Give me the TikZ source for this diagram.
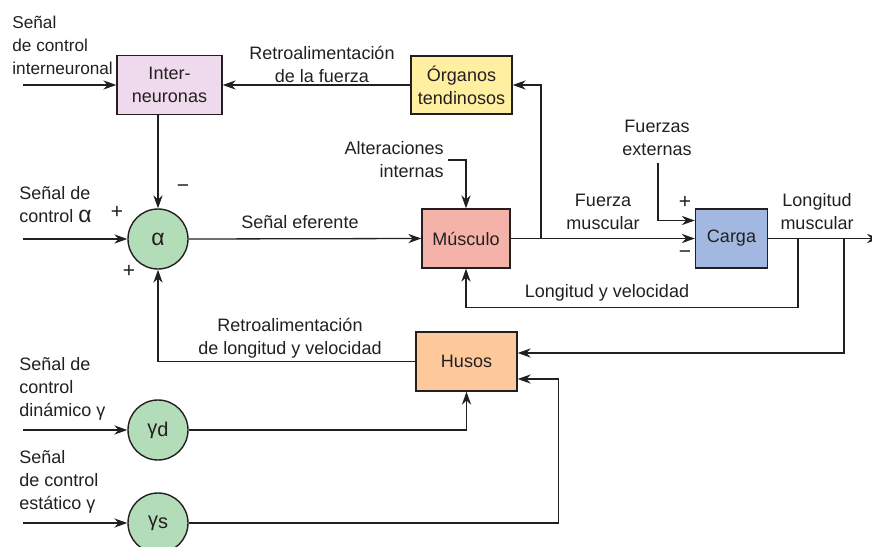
\documentclass[tikz,border=0pt]{standalone}
\usepackage{fontspec}
\setmainfont{Liberation Sans}
\usepackage{tikz}
\usetikzlibrary{arrows.meta,positioning}
\definecolor{ink}{HTML}{231F20}
\definecolor{cinter}{HTML}{EFD9EC}
\definecolor{corg}{HTML}{FEF0A0}
\definecolor{cmus}{HTML}{F5B2A8}
\definecolor{ccarga}{HTML}{A3B8E0}
\definecolor{chusos}{HTML}{FDC89A}
\definecolor{cgreen}{HTML}{B3DDB9}
\newcommand{\alf}{{\fontsize{11.5}{11.5}\selectfont α}}
\tikzset{
  >=Stealth,
  blk/.style={rectangle,draw=ink,line width=0.7pt,inner sep=1pt,minimum height=29.5pt,align=center,text=ink},
  sum/.style={circle,draw=ink,line width=0.7pt,fill=cgreen,minimum size=30pt,inner sep=0pt,text=ink},
  tr/.style={-{Stealth[length=6.5pt,width=4.6pt]},line width=0.65pt,draw=ink},
  lbl/.style={text=ink,inner sep=0pt},
  sgn/.style={text=ink,inner sep=0pt,font=\fontsize{10.5}{11}\selectfont}
}

\begin{document}
\begin{tikzpicture}[x=0.5pt,y=-0.5pt,font=\fontsize{9}{11.5}\selectfont]
    \useasboundingbox (0,0) rectangle (872,546);

    % === Blocks ===
    \node[blk, fill=cinter, minimum width=52.5pt] (inter) at (169.5,85) {Inter-\\neuronas};
    \node[blk, fill=corg, minimum width=50.5pt, minimum height=29pt] (org) at (461.5,85) {Órganos\\tendinosos};
    \node[sum] (alpha) at (158,239) {\alf};
    \node[blk, fill=cmus, minimum width=44pt] (musc) at (466,238.5) {Músculo};
    \node[blk, fill=ccarga, minimum width=36pt] (carga) at (731.5,238.5) {Carga};
    \node[blk, fill=chusos, minimum width=50.5pt] (husos) at (466.5,361.5) {Husos};
    \node[sum, font=\fontsize{10}{11}\selectfont] (gd) at (158,430) {γ\raisebox{-1pt}{d}};
    \node[sum, font=\fontsize{10}{11}\selectfont] (gs) at (158,523) {γ\raisebox{-1pt}{s}};

    % === Free ends and branch points ===
    \coordinate (inI) at (23,85);
    \coordinate (inA) at (23,239);
    \coordinate (inD) at (23,430);
    \coordinate (inS) at (23,523);
    \coordinate (out) at (880,238.5);
    \coordinate (b1) at (541,238.5);
    \coordinate (b2) at (798,238.5);
    \coordinate (b3) at (844,238.5);
    \coordinate (alt) at (448,160);
    \coordinate (fext) at (658,163);

    % === Labels ===
    \node[lbl, anchor=west, align=left, font=\fontsize{8.6}{11.5}\selectfont] (lblI) at (12,45) {Señal\\de control\\interneuronal};
    \node[lbl, align=center] (lblFb) at (322,64) {Retroalimentación\\de la fuerza};
    \node[lbl, anchor=west, align=left] (lblA) at (19,205) {Señal de\\control \alf};
    \node[sgn] (pA) at (117,212) {+};
    \node[sgn] (mA) at (183,189) {−};
    \node[sgn] (pB) at (129,271) {+};
    \node[lbl] (lblEf) at (300,222) {Señal eferente};
    \node[lbl, anchor=east, align=right] (lblAlt) at (444,160) {Alteraciones\\internas};
    \node[lbl, align=center] (lblFm) at (603,212) {Fuerza\\muscular};
    \node[lbl, align=center] (lblFe) at (657,138) {Fuerzas\\externas};
    \node[sgn] (pC) at (685,202) {+};
    \node[sgn] (mC) at (685,255) {−};
    \node[lbl, align=center] (lblLm) at (817,212) {Longitud\\muscular};
    \node[lbl] (lblLv) at (607,293) {Longitud y velocidad};
    \node[lbl, align=center] (lblRl) at (290,338) {Retroalimentación\\de longitud y velocidad};
    \node[lbl, anchor=west, align=left] (lblD) at (19,389) {Señal de\\control\\dinámico γ};
    \node[lbl, anchor=west, align=left] (lblS) at (19,482) {Señal\\de control\\estático γ};

    % === Connectors ===
    \foreach \c/\n in {inI/inter, inA/alpha, inD/gd, inS/gs} {
        \draw[tr] (\c) -- (\n.west);
    }
    \draw[tr] (org.west) -- (inter.east);
    \draw[tr] (inter.south -| alpha.north) -- (alpha.north);
    \draw[tr] (alpha.east) -- (musc.west);
    \draw[tr] (alt) -| (musc.north);
    \draw[tr] (musc.east) -- (carga.west);
    \draw[tr] (b1) |- (org.east);
    \draw[tr] (fext) |- ([yshift=9pt]carga.west);
    \draw[tr] (carga.east) -- (out);
    \draw[tr] (b2) -- ++(0,69) -| (musc.south);
    \draw[tr] (b3) |- ([yshift=4.25pt]husos.east);
    \draw[tr] (husos.west) -| (alpha.south);
    \draw[tr] (gd.east) -| (husos.south);
    \draw[tr] (gs.east) -- ++(370,0) |- ([yshift=-8.75pt]husos.east);

\end{tikzpicture}
\end{document}
